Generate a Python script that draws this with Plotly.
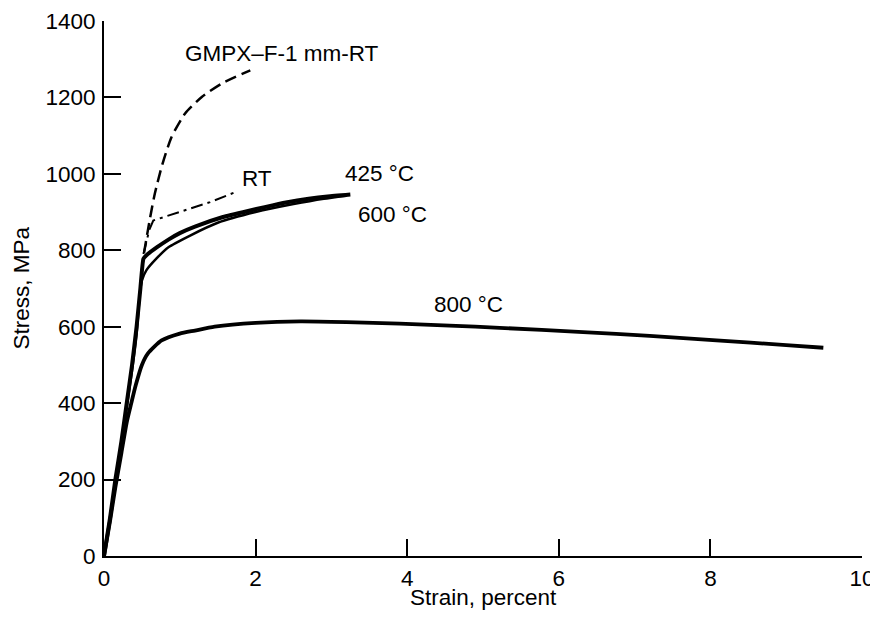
import plotly.graph_objects as go

# ---- data ----
strain_425 = [0, 0.08, 0.15, 0.23, 0.30, 0.37, 0.43, 0.48, 0.52, 0.56, 0.70, 0.85, 1.0, 1.2, 1.57, 1.9, 2.12, 2.4, 2.7, 2.95, 3.25]
stress_425 = [0, 100, 200, 300, 400, 500, 600, 700, 778, 787, 808, 828, 845, 862, 887, 903, 913, 925, 935, 941, 946]

strain_600 = [0, 0.08, 0.15, 0.23, 0.30, 0.37, 0.43, 0.475, 0.50, 0.56, 0.69, 0.85, 1.13, 1.5, 2.0, 2.5, 2.9, 3.2]
stress_600 = [0, 98, 195, 292, 390, 485, 580, 690, 721, 748, 778, 808, 838, 872, 900, 921, 935, 943]

strain_800 = [0, 0.08, 0.15, 0.23, 0.30, 0.36, 0.42, 0.50, 0.58, 0.76, 1.0, 1.2, 1.46, 2.0, 2.59, 3.2, 3.9, 4.56, 5.22, 6.32, 7.2, 8.08, 9.0, 9.49]
stress_800 = [0, 92, 180, 270, 350, 400, 448, 500, 530, 564, 582, 590, 600, 610, 614, 612, 608, 603, 597, 586, 576, 564, 552, 545]

strain_rt = [0.52, 0.56, 0.60, 0.65, 1.0, 1.4, 1.73]
stress_rt = [790, 825, 855, 878, 900, 926, 952]

strain_gmpx = [0.48, 0.52, 0.61, 0.67, 0.76, 0.89, 1.07, 1.29, 1.55, 1.93]
stress_gmpx = [700, 782, 887, 948, 1018, 1096, 1158, 1201, 1236, 1271]

x_ticks = [0, 2, 4, 6, 8, 10]
y_ticks = [0, 200, 400, 600, 800, 1000, 1200, 1400]

labels = ["GMPX\u2013F-1 mm-RT", "RT", "425 \u00b0C", "600 \u00b0C", "800 \u00b0C"]
label_x = [1.046, 1.794, 3.157, 3.325, 4.323]
label_y = [1315, 987, 1002, 893, 658]

FONT = "Liberation Sans, Arial, sans-serif"
FS = 22.5

fig = go.Figure()
fig.add_trace(go.Scatter(x=strain_800, y=stress_800, mode="lines",
                         line=dict(color="black", width=3.8, shape="spline", smoothing=0.6)))
fig.add_trace(go.Scatter(x=strain_600, y=stress_600, mode="lines",
                         line=dict(color="black", width=2.5, shape="spline", smoothing=0.5)))
fig.add_trace(go.Scatter(x=strain_425, y=stress_425, mode="lines",
                         line=dict(color="black", width=4, shape="spline", smoothing=0.4)))
fig.add_trace(go.Scatter(x=strain_rt, y=stress_rt, mode="lines",
                         line=dict(color="black", width=2, dash="12px,5px,3px,5px")))
fig.add_trace(go.Scatter(x=strain_gmpx, y=stress_gmpx, mode="lines",
                         line=dict(color="black", width=2.5, dash="12px,6px", shape="spline", smoothing=0.6)))

for t, lx, ly in zip(labels, label_x, label_y):
    fig.add_annotation(x=lx, y=ly, xref="x", yref="y", text=t, showarrow=False,
                       xanchor="left", yanchor="middle",
                       font=dict(family=FONT, size=FS, color="black"))

# axis titles
fig.add_annotation(x=0.5, y=0, xref="paper", yref="paper", yshift=-41,
                   text="Strain, percent", showarrow=False, xanchor="center", yanchor="middle",
                   font=dict(family=FONT, size=FS, color="black"))
fig.add_annotation(x=0, y=0.5, xref="paper", yref="paper", xshift=-83,
                   text="Stress, MPa", showarrow=False, textangle=-90,
                   xanchor="center", yanchor="middle",
                   font=dict(family=FONT, size=FS, color="black"))

axis_common = dict(showline=True, linecolor="black", linewidth=2, ticks="inside",
                   ticklen=17, tickwidth=1.5, tickcolor="black", showgrid=False,
                   zeroline=False, tickfont=dict(family=FONT, size=FS, color="black"),
                   mirror=False, ticklabeloverflow="allow")
fig.update_xaxes(range=[0, 10], tickvals=x_ticks, ticktext=[str(v) for v in x_ticks],
                 ticklabelstandoff=1, **axis_common)
fig.update_yaxes(range=[0, 1400], tickvals=y_ticks, ticktext=[str(v) for v in y_ticks],
                 ticklabelstandoff=2, **axis_common)

# page has an 8px body margin, so the figure is sized to fit the 878x620 window
fig.update_layout(width=870, height=604, showlegend=False,
                  margin=dict(l=96, r=16, t=13, b=56, autoexpand=False),
                  paper_bgcolor="white", plot_bgcolor="white",
                  font=dict(family=FONT, color="black"))

fig.write_html("out.html")
